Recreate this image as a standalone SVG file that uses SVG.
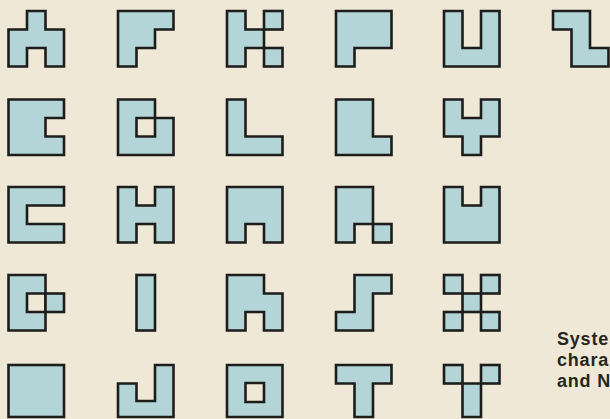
<svg xmlns="http://www.w3.org/2000/svg" width="610" height="419" viewBox="0 0 610 419">
<style>
.bg{fill:#efe8d7}
.s path,.s rect{fill:#b3d5d8;stroke:#1d1d1b;stroke-width:2.6;stroke-linejoin:miter;fill-rule:evenodd}
.cap{font-family:"Liberation Sans",Arial,sans-serif;font-size:18px;font-weight:bold;letter-spacing:0.8px;fill:#26261c}
</style>
<rect class="bg" x="0" y="0" width="610" height="419"/>
<g id="shapes" class="s">
<!-- Row 1 -->
<g id="r1c1" transform="translate(8.5,11)"><path d="M18.5,0H37V18.5H55.5V55.5H37V37H18.5V55.5H0V18.5H18.5Z"/></g>
<g id="r1c2" transform="translate(118,11)"><path d="M0,0H55.5V18.5H37V37H18.5V55.5H0Z"/></g>
<g id="r1c3" transform="translate(227,11)"><path d="M0,0H18.5V18.5H37V37H18.5V55.5H0Z"/><rect x="37" y="0" width="18.5" height="18.5"/><rect x="37" y="37" width="18.5" height="18.5"/></g>
<g id="r1c4" transform="translate(336,11)"><path d="M0,0H55.5V37H18.5V55.5H0Z"/></g>
<g id="r1c5" transform="translate(444,11)"><path d="M0,0H18.5V37H37V0H55.5V55.5H0Z"/></g>
<g id="r1c6" transform="translate(553,11)"><path d="M0,0H37V37H55.5V55.5H18.5V18.5H0Z"/></g>
<!-- Row 2 -->
<g id="r2c1" transform="translate(8.5,99.5)"><path d="M0,0H55.5V18.5H37V37H55.5V55.5H0Z"/></g>
<g id="r2c2" transform="translate(118,99.5)"><path d="M0,0H37V18.5H55.5V55.5H0Z M18.5,18.5H37V37H18.5Z"/></g>
<g id="r2c3" transform="translate(227,99.5)"><path d="M0,0H18.5V37H55.5V55.5H0Z"/></g>
<g id="r2c4" transform="translate(336,99.5)"><path d="M0,0H37V37H55.5V55.5H0Z"/></g>
<g id="r2c5" transform="translate(444,99.5)"><path d="M0,0H18.5V18.5H37V0H55.5V37H37V55.5H18.5V37H0Z"/></g>
<!-- Row 3 -->
<g id="r3c1" transform="translate(8.5,187)"><path d="M0,0H55.5V18.5H18.5V37H55.5V55.5H0Z"/></g>
<g id="r3c2" transform="translate(118,187)"><path d="M0,0H18.5V18.5H37V0H55.5V55.5H37V37H18.5V55.5H0Z"/></g>
<g id="r3c3" transform="translate(227,187)"><path d="M0,0H55.5V55.5H37V37H18.5V55.5H0Z"/></g>
<g id="r3c4" transform="translate(336,187)"><path d="M0,0H37V37H18.5V55.5H0Z"/><rect x="37" y="37" width="18.5" height="18.5"/></g>
<g id="r3c5" transform="translate(444,187)"><path d="M0,0H18.5V18.5H37V0H55.5V55.5H0Z"/></g>
<!-- Row 4 -->
<g id="r4c1" transform="translate(8.5,275)"><path d="M0,0H37V55.5H0Z M18.5,18.5H37V37H18.5Z"/><rect x="37" y="18.5" width="18.5" height="18.5"/></g>
<g id="r4c2" transform="translate(118,275)"><rect x="18.5" y="0" width="18.5" height="55.5"/></g>
<g id="r4c3" transform="translate(227,275)"><path d="M0,0H37V18.5H55.5V55.5H37V37H18.5V55.5H0Z"/></g>
<g id="r4c4" transform="translate(336,275)"><path d="M18.5,0H55.5V18.5H37V55.5H0V37H18.5Z"/></g>
<g id="r4c5" transform="translate(444,275)"><rect x="0" y="0" width="18.5" height="18.5"/><rect x="37" y="0" width="18.5" height="18.5"/><rect x="18.5" y="18.5" width="18.5" height="18.5"/><rect x="0" y="37" width="18.5" height="18.5"/><rect x="37" y="37" width="18.5" height="18.5"/></g>
<!-- Row 5 -->
<g id="r5c1" transform="translate(8.5,365)"><rect x="0" y="0" width="55.5" height="52"/></g>
<g id="r5c2" transform="translate(118,365)"><path d="M37,0H55.5V52H0V18.5H18.5V36H37Z"/></g>
<g id="r5c3" transform="translate(227,365)"><path d="M0,0H55.5V52H0Z M18.5,18H37V37H18.5Z"/></g>
<g id="r5c4" transform="translate(336,365)"><path d="M0,0H55.5V18.5H37V52H18.5V18.5H0Z"/></g>
<g id="r5c5" transform="translate(444,365)"><rect x="0" y="0" width="18.5" height="18.5"/><rect x="37" y="0" width="18.5" height="18.5"/><path d="M18.5,18.5H37V52H18.5Z"/></g>
</g>
<g id="caption" class="cap">
<text x="557" y="345">Syste</text>
<text x="557" y="366">chara</text>
<text x="557" y="387">and N</text>
</g>
</svg>
